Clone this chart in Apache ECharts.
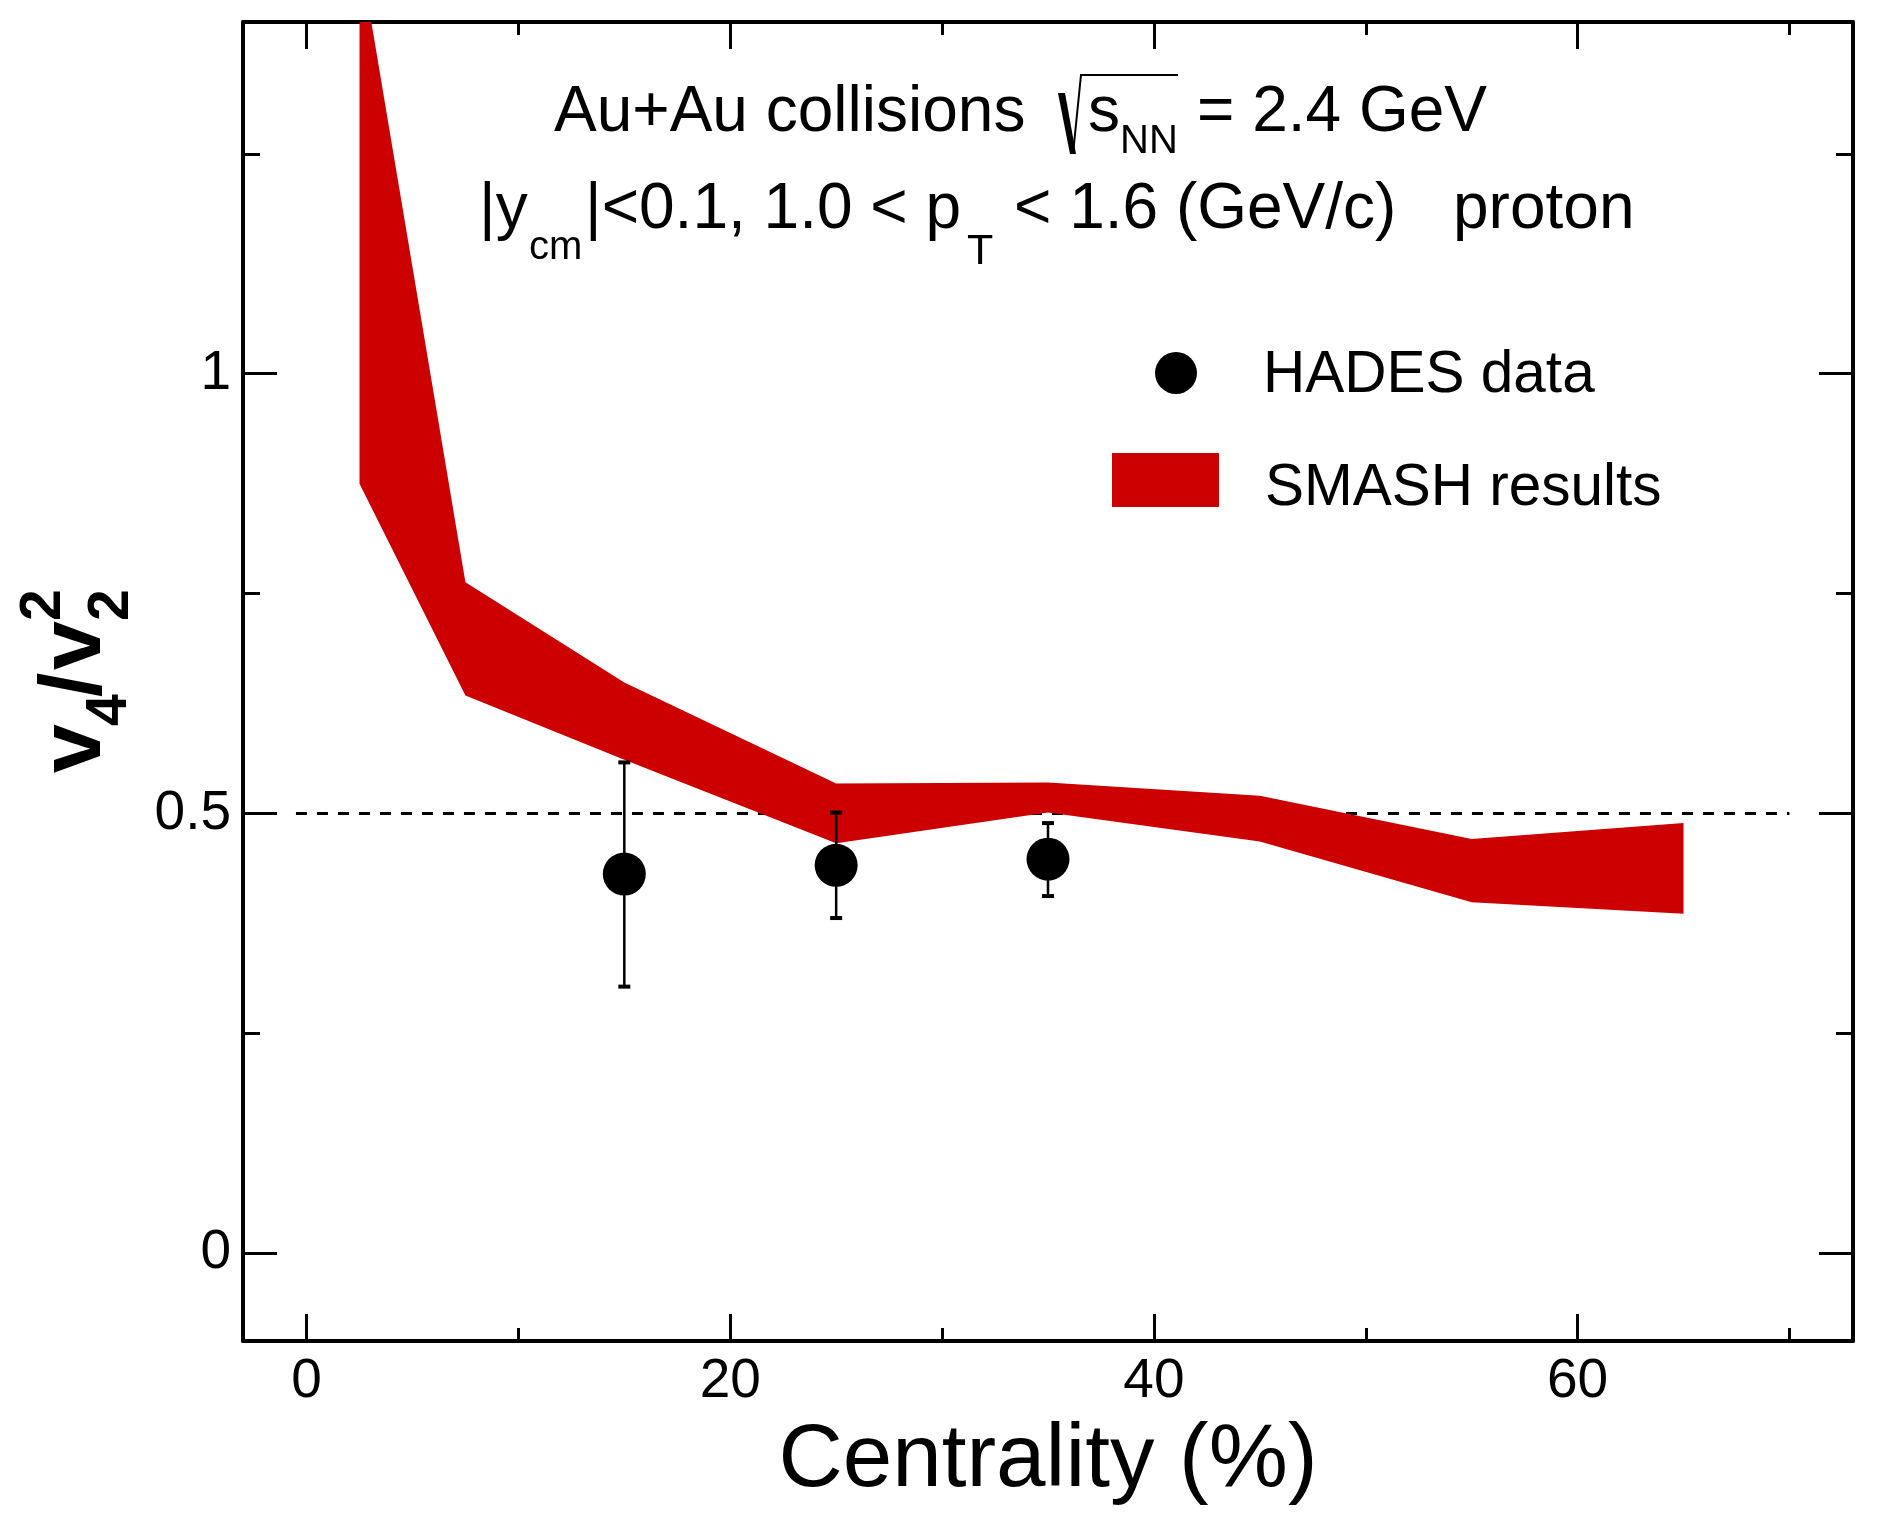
<!DOCTYPE html>
<html>
<head>
<meta charset="utf-8">
<script src="https://cdn.jsdelivr.net/npm/echarts@6/dist/echarts.min.js"></script>
<style>
html,body{margin:0;padding:0;background:#fff;}
#main{width:1877px;height:1530px;}
</style>
</head>
<body>
<div id="main"></div>
<script>
// SMASH band (centrality bins)
var centrality = [2.5, 7.5, 15, 25, 35, 45, 55, 65]
var smashUpper = [1.48, 0.763, 0.649, 0.534, 0.535, 0.520, 0.471, 0.489]
var smashLower = [0.875, 0.634, 0.561, 0.466, 0.501, 0.468, 0.399, 0.386]
// HADES points
var hadesX = [15, 25, 35]
var hadesY = [0.431, 0.441, 0.448]
var hadesLow = [0.303, 0.381, 0.406]
var hadesHigh = [0.558, 0.501, 0.489]
// reference line v4/v2^2 = 0.5
var refX = [-0.5, 70]
var refY = 0.5
// ticks
var xMajor = [0, 20, 40, 60]
var xMinor = [10, 30, 50, 70]
var yMajor = [0, 0.5, 1]
var yMinor = [0.25, 0.75, 1.25]

var FONT = '"Liberation Sans", Arial, Helvetica, sans-serif'
var RED = '#cc0000'

var chart = echarts.init(document.getElementById('main'))

// text placed by its baseline
function txt(str, x, base, size, weight) {
	return {
		type: 'text', x: x, y: base - 0.275 * size, z: 100,
		style: { text: str, fill: '#000', font: (weight || 'normal') + ' ' + size + 'px ' + FONT, align: 'left', verticalAlign: 'middle' }
	}
}

function xAx(pos, ticks, len, labels, line) {
	return {
		type: 'value', position: pos, min: -3, max: 73,
		axisLine: { show: line, onZero: false, lineStyle: { color: '#000', width: 4 } },
		axisTick: { show: true, inside: true, length: len, customValues: ticks, lineStyle: { color: '#000', width: 3 } },
		axisLabel: labels ? { show: true, customValues: ticks, margin: 13, color: '#000', fontSize: 55, fontFamily: FONT } : { show: false },
		splitLine: { show: false }
	}
}
function yAx(pos, ticks, len, labels, line) {
	return {
		type: 'value', position: pos, min: -0.1, max: 1.4,
		axisLine: { show: line, onZero: false, lineStyle: { color: '#000', width: 4 } },
		axisTick: { show: true, inside: true, length: len, customValues: ticks, lineStyle: { color: '#000', width: 3 } },
		axisLabel: labels ? { show: true, customValues: ticks, margin: 12, color: '#000', fontSize: 55, fontFamily: FONT } : { show: false },
		splitLine: { show: false }
	}
}

var xAxes = [
	xAx('bottom', xMajor, 27, true, true),
	xAx('bottom', xMinor, 13, false, false),
	xAx('top', xMajor, 27, false, true),
	xAx('top', xMinor, 13, false, false)
]
xAxes[0].name = 'Centrality (%)'
xAxes[0].nameLocation = 'middle'
xAxes[0].nameGap = 76
xAxes[0].nameTextStyle = { color: '#000', fontSize: 89, fontFamily: FONT }

var yAxes = [
	yAx('left', yMajor, 34, true, true),
	yAx('left', yMinor, 17, false, false),
	yAx('right', yMajor, 34, false, true),
	yAx('right', yMinor, 17, false, false)
]

var option = {
	animation: false,
	backgroundColor: '#fff',
	grid: { left: 243, right: 24, top: 22, bottom: 189, containLabel: false },
	xAxis: xAxes,
	yAxis: yAxes,
	series: [
		{
			type: 'line', name: 'ref', symbol: 'none', silent: true,
			data: refX.map(function (x) { return [x, refY] }),
			lineStyle: { color: '#000', width: 3, type: [11, 10] },
			z: 1
		},
		{
			// band drawn as one polygon: upper edge left->right, lower edge back
			type: 'custom', name: 'SMASH results', silent: true,
			data: centrality.map(function (x, i) { return [x, smashLower[i], smashUpper[i]] }),
			encode: { x: 0, y: [1, 2] },
			itemStyle: { color: RED },
			renderItem: function (params, api) {
				if (params.dataIndex !== 0) return null
				var pts = []
				for (var i = 0; i < centrality.length; i++) pts.push(api.coord([centrality[i], smashUpper[i]]))
				for (var j = centrality.length - 1; j >= 0; j--) pts.push(api.coord([centrality[j], smashLower[j]]))
				var cs = params.coordSys
				return {
					type: 'polygon', shape: { points: pts }, style: { fill: RED },
					clipPath: { type: 'rect', shape: { x: cs.x, y: cs.y, width: cs.width, height: cs.height } }
				}
			},
			z: 2
		},
		{
			type: 'custom', name: 'errors', silent: true,
			data: hadesX.map(function (x, i) { return [x, hadesLow[i], hadesHigh[i]] }),
			encode: { x: 0, y: [1, 2] },
			renderItem: function (params, api) {
				var x = api.value(0)
				var lo = api.coord([x, api.value(1)])
				var hi = api.coord([x, api.value(2)])
				var c = 6
				return {
					type: 'group', children: [
						{ type: 'line', shape: { x1: lo[0], y1: lo[1], x2: hi[0], y2: hi[1] }, style: { stroke: '#000', lineWidth: 2.5 } },
						{ type: 'line', shape: { x1: lo[0] - c, y1: lo[1], x2: lo[0] + c, y2: lo[1] }, style: { stroke: '#000', lineWidth: 4 } },
						{ type: 'line', shape: { x1: hi[0] - c, y1: hi[1], x2: hi[0] + c, y2: hi[1] }, style: { stroke: '#000', lineWidth: 4 } }
					]
				}
			},
			z: 3
		},
		{
			type: 'scatter', name: 'HADES data', symbol: 'circle', symbolSize: 43,
			data: hadesX.map(function (x, i) { return [x, hadesY[i]] }),
			itemStyle: { color: '#000', opacity: 1 },
			z: 4
		}
	],
	graphic: [
		// header line 1
		txt('Au+Au collisions', 554, 131, 64),
		{ type: 'polygon', z: 100, shape: { points: [[1058, 93], [1065, 93], [1076, 154], [1070, 154]] }, style: { fill: '#000' } },
		{ type: 'polyline', z: 100, shape: { points: [[1073, 154], [1081, 75], [1178, 75]] }, style: { stroke: '#000', lineWidth: 2, fill: null } },
		txt('s', 1088, 131, 64),
		txt('NN', 1120, 153, 40),
		txt('= 2.4 GeV', 1197, 131, 64),
		// header line 2
		txt('|y', 479, 228, 64),
		txt('cm', 529, 259, 40),
		txt('|<0.1, 1.0 < p', 585, 228, 64),
		txt('T', 967, 264, 43),
		txt('< 1.6 (GeV/c)', 1014, 228, 64),
		txt('proton', 1453, 228, 64),
		// legend
		{ type: 'circle', z: 100, shape: { cx: 1176, cy: 373, r: 21 }, style: { fill: '#000' } },
		txt('HADES data', 1263, 392, 58.5),
		{ type: 'rect', z: 100, shape: { x: 1112, y: 453, width: 107, height: 54 }, style: { fill: RED } },
		txt('SMASH results', 1265, 505, 58.5),
		// y axis title v4/v2^2, rotated
		{
			type: 'group', x: 100, y: 773, rotation: Math.PI / 2,
			children: [
				txt('v', 0, 0, 88, 'bold'),
				txt('4', 47, 26, 57, 'bold'),
				txt('/', 76, 0, 88, 'bold'),
				txt('v', 103, 0, 88, 'bold'),
				txt('2', 152, 28, 57, 'bold'),
				txt('2', 152, -40, 57, 'bold')
			]
		}
	]
}
chart.setOption(option)
</script>
</body>
</html>
